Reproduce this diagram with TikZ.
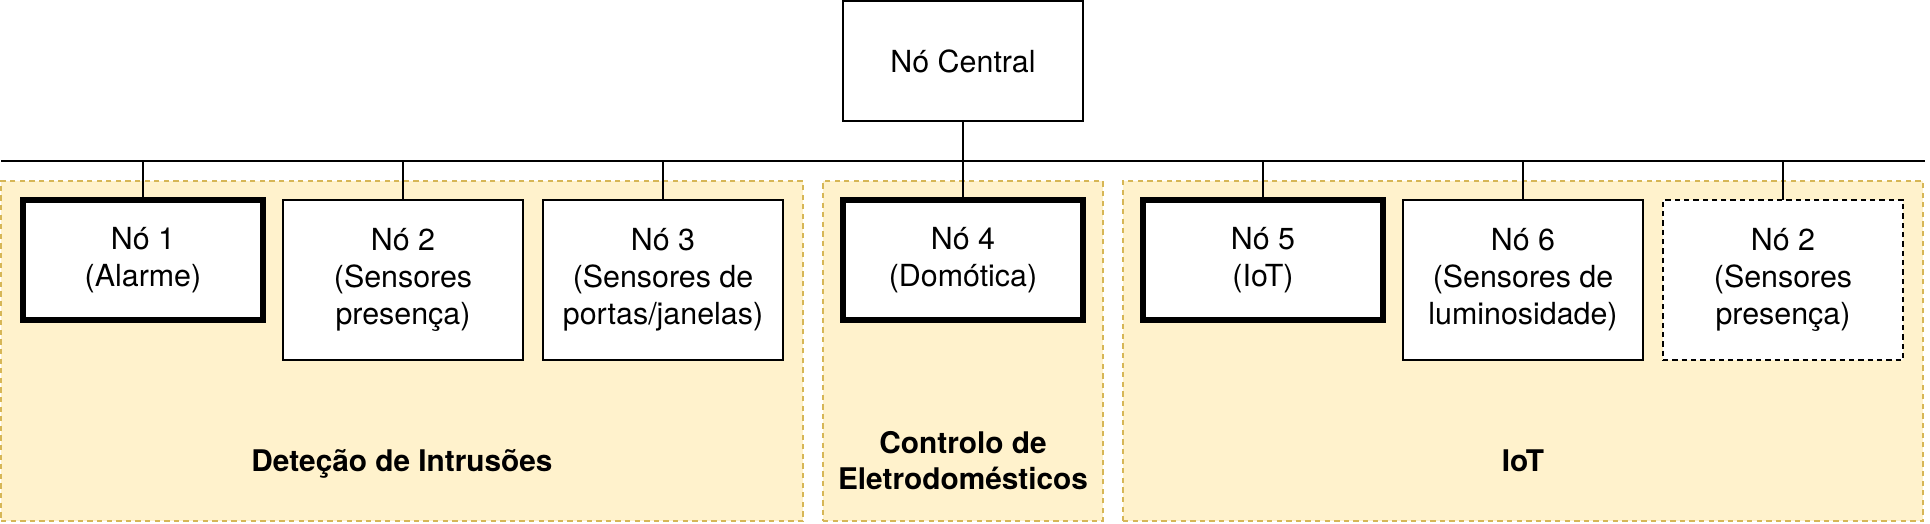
\documentclass[tikz,border=0pt]{standalone}
\usepackage{fontspec}
\setmainfont{TeX Gyre Heros}
\definecolor{grpfill}{HTML}{FFF2CC}
\definecolor{grpline}{HTML}{D6B656}
\begin{document}
\begin{tikzpicture}[x=1pt,y=-1pt,
  every node/.style={font=\fontsize{30.4}{37}\selectfont, inner sep=0pt, outer sep=0pt},
  grp/.style={rectangle, draw=grpline, fill=grpfill, line width=1.33pt, dash pattern=on 5.3pt off 4.3pt},
  box/.style={rectangle, draw=black, fill=white, line width=1.33pt, align=center, minimum width=240pt},
  thickbox/.style={box, line width=5.3pt, minimum height=120pt},
  tallbox/.style={box, minimum height=160pt},
  dbox/.style={tallbox, dash pattern=on 5.3pt off 4pt},
  wire/.style={draw=black, line width=1.33pt},
  glabel/.style={font=\bfseries\fontsize{29.8}{35.7}\selectfont, align=center, anchor=base}
]
\useasboundingbox (0,0) rectangle (1930,524);

% groups
\node[grp, minimum width=802pt, minimum height=340pt] (gL) at (402,351) {};
\node[grp, minimum width=280pt, minimum height=340pt] (gC) at (963,351) {};
\node[grp, minimum width=800pt, minimum height=340pt] (gR) at (1523,351) {};

\node[glabel] (lL) at (402,471) {Deteção de Intrusões};
\node[glabel] (lC) at (963,489) {Controlo de\\Eletrodomésticos};
\node[glabel] (lR) at (1523,471) {IoT};

% bus
\coordinate (busL) at (1,161);
\coordinate (busR) at (1925,161);
\draw[wire] (busL) -- (busR);

% nodes
\node[box, minimum height=120pt] (c) at (963,61) {Nó Central};
\node[thickbox] (n1) at (143,260) {Nó 1\\(Alarme)};
\node[tallbox] (n2) at (403,280) {Nó 2\\(Sensores\\presença)};
\node[tallbox] (n3) at (663,280) {Nó 3\\(Sensores de\\portas/janelas)};
\node[thickbox] (n4) at (963,260) {Nó 4\\(Domótica)};
\node[thickbox] (n5) at (1263,260) {Nó 5\\(IoT)};
\node[tallbox] (n6) at (1523,280) {Nó 6\\(Sensores de\\luminosidade)};
\node[dbox] (n7) at (1783,280) {Nó 2\\(Sensores\\presença)};

% connectors
\foreach \n in {n1,n2,n3,n5,n6,n7}
  \draw[wire] (\n.north) -- (\n.north |- busL);
\draw[wire] (c.south) -- (n4.north);
\end{tikzpicture}
\end{document}
